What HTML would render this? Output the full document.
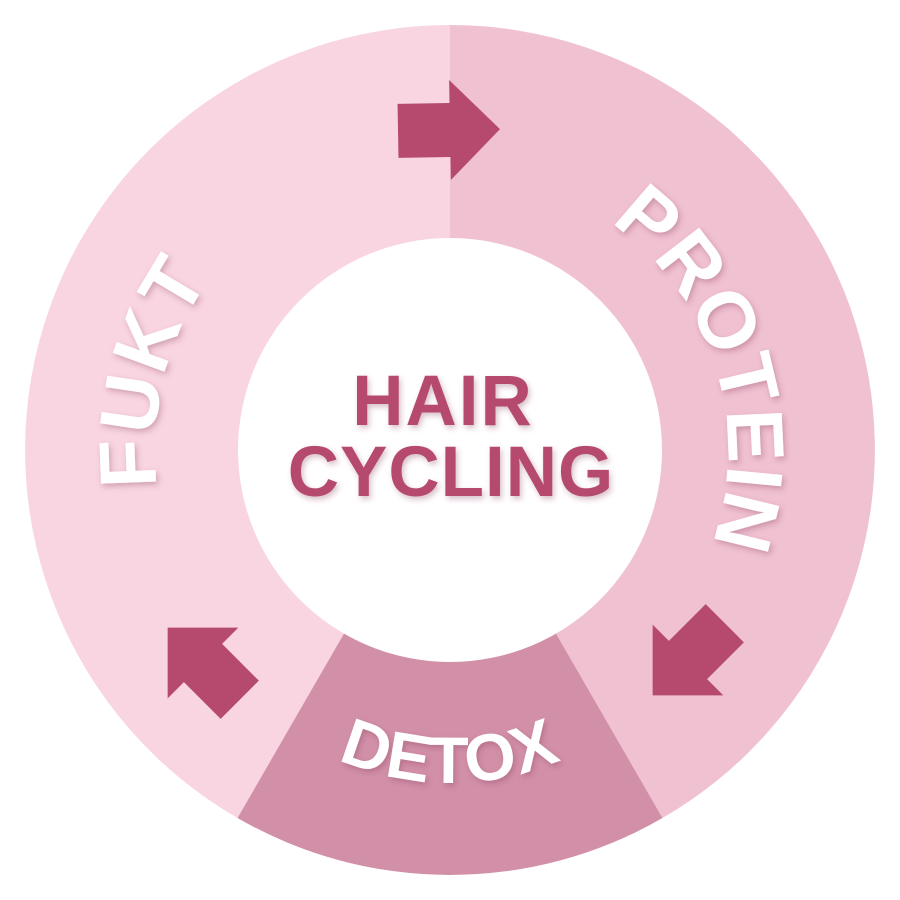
<!DOCTYPE html>
<html><head><meta charset="utf-8"><style>
html,body{margin:0;padding:0;background:#fff;}
svg{display:block;}
text{font-family:"Liberation Sans",Arial,sans-serif;font-weight:bold;}
</style></head><body>
<svg width="900" height="900" viewBox="0 0 900 900" xmlns="http://www.w3.org/2000/svg">
<defs>
<filter id="sh" x="-20%" y="-20%" width="140%" height="140%">
<feDropShadow dx="2" dy="3" stdDeviation="3" flood-color="#7a3050" flood-opacity="0.3"/>
</filter>
<path id="pp" d="M450,172 A278,278 0 0 1 728,450 A278,278 0 0 1 450,728"/>
<path id="pf" d="M450,745 A295,295 0 0 1 155,450 A295,295 0 0 1 450,155"/>
<path id="pd" d="M175,508 A275,275 0 0 0 725,508"/>
<polygon id="ar" points="-52,-27 0,-27 0,-50 50,0 0,50 0,27 -52,27"/>
</defs>
<path d="M450,450 L450,25 A425,425 0 0 0 237.5,818 Z" fill="#f8d5e0"/>
<path d="M450,450 L450,25 A425,425 0 0 1 662.5,818 Z" fill="#f0c1d1"/>
<path d="M450,450 L662.5,818 A425,425 0 0 1 237.5,818 Z" fill="#d290a8"/>
<circle cx="450" cy="450" r="212" fill="#fff"/>
<use href="#ar" transform="translate(450,130) rotate(-1)" fill="#b54a6e"/>
<use href="#ar" transform="translate(688,660) rotate(135)" fill="#b54a6e"/>
<use href="#ar" transform="translate(203,663) rotate(225)" fill="#b54a6e"/>
<g filter="url(#sh)" fill="#fff" font-size="80">
<text><textPath href="#pp" startOffset="19.5%" letter-spacing="1">PROTEIN</textPath></text>
<text><textPath href="#pf" startOffset="46%" letter-spacing="2">FUKT</textPath></text>
<text font-size="66"><textPath href="#pd" startOffset="50%" text-anchor="middle" letter-spacing="1">DETOX</textPath></text>
</g>
<g filter="url(#sh)" fill="#b54a6e" font-size="71" text-anchor="middle">
<text x="443" y="425" letter-spacing="2">HAIR</text>
<text x="451" y="496" letter-spacing="1">CYCLING</text>
</g>
</svg>
</body></html>
